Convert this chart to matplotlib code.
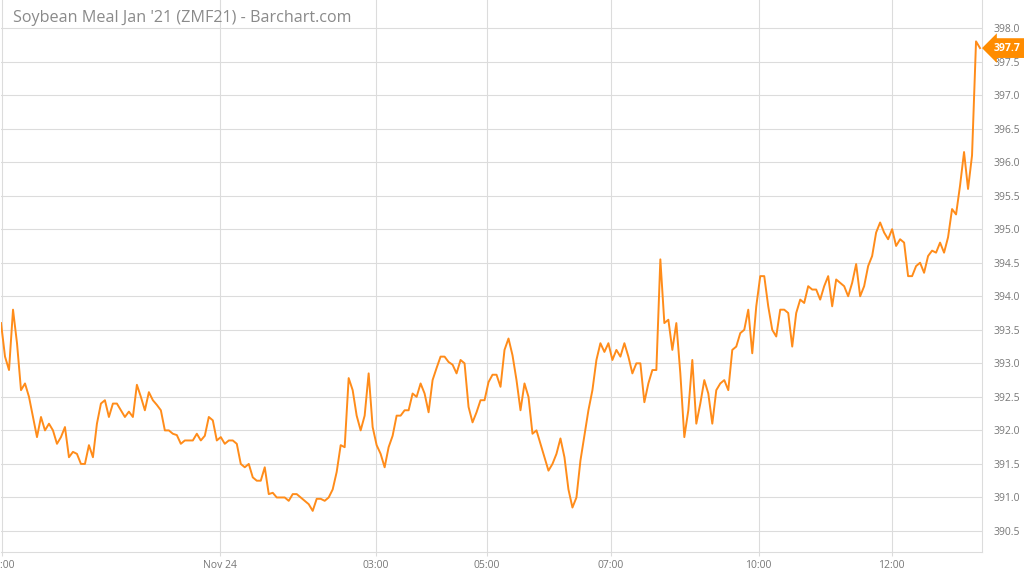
import matplotlib

matplotlib.use("Agg")
import matplotlib.pyplot as plt  # noqa: E402
import numpy as np  # noqa: E402

plt.rcParams["font.family"] = ["Open Sans", "DejaVu Sans"]

# ZMF21 intraday price, one value every few bars
prices = [
    393.6, 393.1, 392.9, 393.8, 393.3, 392.6, 392.7, 392.5, 392.2, 391.9,
    392.2, 392.0, 392.1, 392.0, 391.8, 391.9, 392.05, 391.6, 391.68, 391.65,
    391.5, 391.5, 391.78, 391.6, 392.1, 392.4, 392.45, 392.2, 392.4, 392.4,
    392.3, 392.2, 392.28, 392.2, 392.68, 392.5, 392.3, 392.57, 392.45, 392.38,
    392.3, 392.0, 392.0, 391.95, 391.93, 391.8, 391.85, 391.85, 391.85, 391.95,
    391.85, 391.92, 392.2, 392.15, 391.85, 391.9, 391.8, 391.85, 391.85, 391.8,
    391.5, 391.45, 391.5, 391.3, 391.25, 391.25, 391.45, 391.05, 391.07, 391.0,
    391.0, 391.0, 390.95, 391.05, 391.05, 391.0, 390.95, 390.9, 390.8, 390.98,
    390.98, 390.95, 391.0, 391.12, 391.38, 391.78, 391.75, 392.78, 392.6, 392.22,
    392.0, 392.22, 392.85, 392.05, 391.78, 391.65, 391.45, 391.75, 391.92, 392.22,
    392.22, 392.3, 392.3, 392.55, 392.5, 392.7, 392.55, 392.27, 392.75, 392.93,
    393.1, 393.1, 393.02, 392.98, 392.85, 393.05, 393.0, 392.35, 392.12, 392.27,
    392.45, 392.45, 392.72, 392.83, 392.83, 392.65, 393.2, 393.37, 393.12, 392.75,
    392.3, 392.7, 392.5, 391.95, 392.0, 391.8, 391.6, 391.4, 391.5, 391.65,
    391.88, 391.6, 391.12, 390.85, 391.0, 391.55, 391.92, 392.3, 392.6, 393.05,
    393.3, 393.17, 393.3, 393.05, 393.2, 393.1, 393.3, 393.1, 392.85, 393.0,
    393.0, 392.42, 392.7, 392.9, 392.9, 394.55, 393.6, 393.65, 393.2, 393.6,
    392.85, 391.9, 392.3, 393.05, 392.1, 392.4, 392.75, 392.55, 392.1, 392.6,
    392.7, 392.75, 392.6, 393.2, 393.25, 393.45, 393.5, 393.8, 393.15, 393.85,
    394.3, 394.3, 393.85, 393.5, 393.4, 393.8, 393.8, 393.75, 393.25, 393.75,
    393.95, 393.9, 394.15, 394.1, 394.1, 393.95, 394.15, 394.3, 393.85, 394.25,
    394.2, 394.15, 394.0, 394.2, 394.48, 394.0, 394.15, 394.45, 394.6, 394.95,
    395.1, 394.95, 394.85, 395.0, 394.75, 394.85, 394.8, 394.3, 394.3, 394.45,
    394.5, 394.35, 394.6, 394.68, 394.65, 394.8, 394.65, 394.88, 395.3, 395.22,
    395.65, 396.15, 395.6, 396.1, 397.8, 397.7,
]
time_ticks = [0.25, 54.75, 93.75, 121.6, 152.6, 189.6, 222.9]
time_labels = ["21:00", "Nov 24", "03:00", "05:00", "07:00", "10:00", "12:00"]
price_ticks = np.arange(390.5, 398.01, 0.5)

LINE = "#ff8c1a"
GRID = "#dcdcdc"
TXT = "#777777"

fig = plt.figure(figsize=(10.24, 5.76), dpi=100)
ax = fig.add_axes([0.001, 24 / 576, 981 / 1024, 552 / 576])

ax.plot(np.arange(len(prices)), prices, color=LINE, lw=1.4, solid_joinstyle="round")

ax.set_xlim(0, 245.5)
ax.set_ylim(390.187, 398.417)

ax.set_xticks(time_ticks)
ax.set_xticklabels(time_labels)
ax.set_yticks(price_ticks)
ax.set_yticklabels([f"{v:.1f}" for v in price_ticks])
ax.yaxis.tick_right()

ax.grid(True, color=GRID, lw=0.8)
ax.set_axisbelow(True)
for side in ("top", "left"):
    ax.spines[side].set_visible(False)
for side in ("right", "bottom"):
    ax.spines[side].set_color(GRID)
    ax.spines[side].set_linewidth(0.8)

ax.tick_params(axis="x", length=3, color=GRID, pad=3, labelsize=7.5, labelcolor=TXT)
ax.tick_params(axis="y", length=0, pad=8, labelsize=7.5, labelcolor=TXT)

# last-price badge on the right axis
last = prices[-1]
ax.annotate(
    f"{last:.1f}",
    xy=(1, last),
    xycoords=("axes fraction", "data"),
    xytext=(8, 0),
    textcoords="offset points",
    va="center",
    ha="left",
    color="white",
    fontsize=7.5,
    fontweight="bold",
    bbox=dict(boxstyle="larrow,pad=0.42", fc="#ff8c00", ec="none"),
    annotation_clip=False,
)

fig.text(13 / 1024, 1 - 18 / 576, "Soybean Meal Jan '21 (ZMF21) - Barchart.com",
         color="#8a8a8a", fontsize=11.6, va="center", ha="left")

fig.savefig("out.png", dpi=100, facecolor="white")
plt.close(fig)
